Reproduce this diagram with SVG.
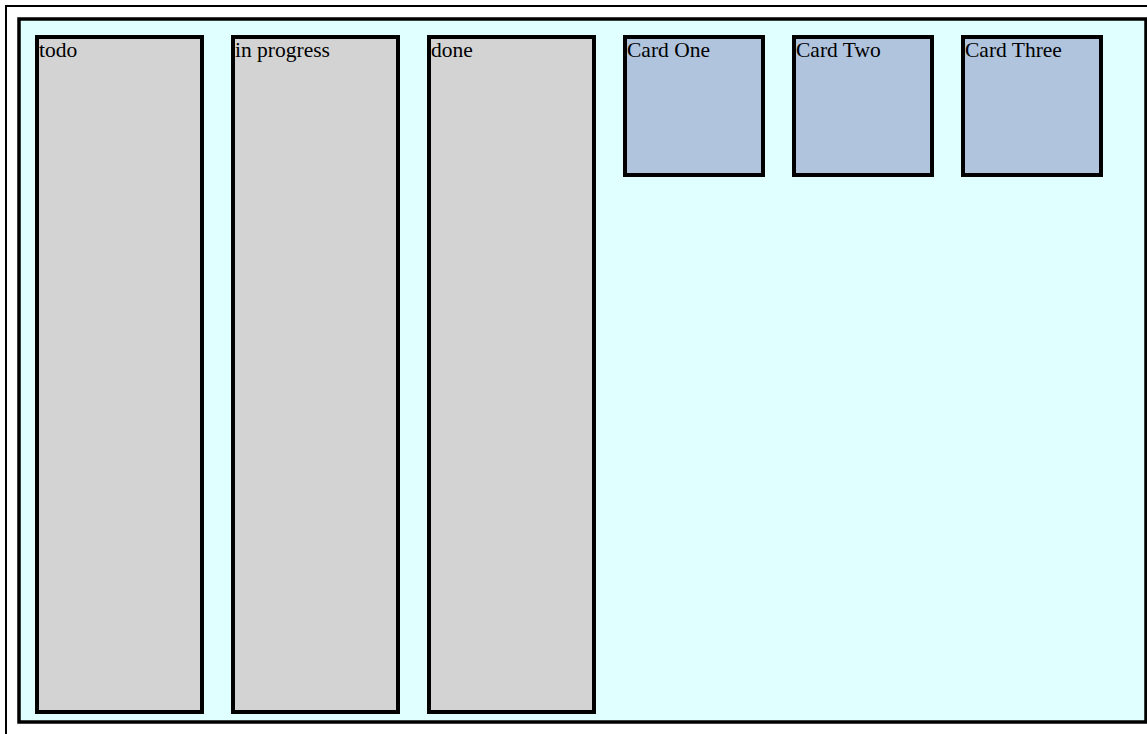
<svg xmlns="http://www.w3.org/2000/svg" width="1147" height="734" viewBox="0 0 1147 734">
<style>
.col{fill:#d3d3d3;stroke:#000;stroke-width:4}
.card{fill:#b0c4de;stroke:#000;stroke-width:4}
.lbl{font-family:"Liberation Serif","Times New Roman",serif;font-size:21.5px;fill:#000}
</style>
<rect x="0" y="0" width="1147" height="734" fill="#fff"/>
<g id="frame"><rect x="6" y="6" width="1300" height="900" fill="#fff" stroke="#000" stroke-width="2"/></g>
<g id="board"><rect x="19" y="19" width="1127" height="703" fill="#e0ffff" stroke="#000" stroke-width="3.5"/></g>
<g id="col-todo"><rect class="col" x="37" y="37" width="165" height="675"/><text class="lbl" x="39" y="57">todo</text></g>
<g id="col-progress"><rect class="col" x="233" y="37" width="165" height="675"/><text class="lbl" x="235" y="57">in progress</text></g>
<g id="col-done"><rect class="col" x="429" y="37" width="165" height="675"/><text class="lbl" x="431" y="57">done</text></g>
<g id="card-one"><rect class="card" x="625" y="37" width="138" height="138"/><text class="lbl" x="627" y="57">Card One</text></g>
<g id="card-two"><rect class="card" x="794" y="37" width="138" height="138"/><text class="lbl" x="796" y="57">Card Two</text></g>
<g id="card-three"><rect class="card" x="963" y="37" width="138" height="138"/><text class="lbl" x="965" y="57">Card Three</text></g>
<g id="connectors"></g>
</svg>
